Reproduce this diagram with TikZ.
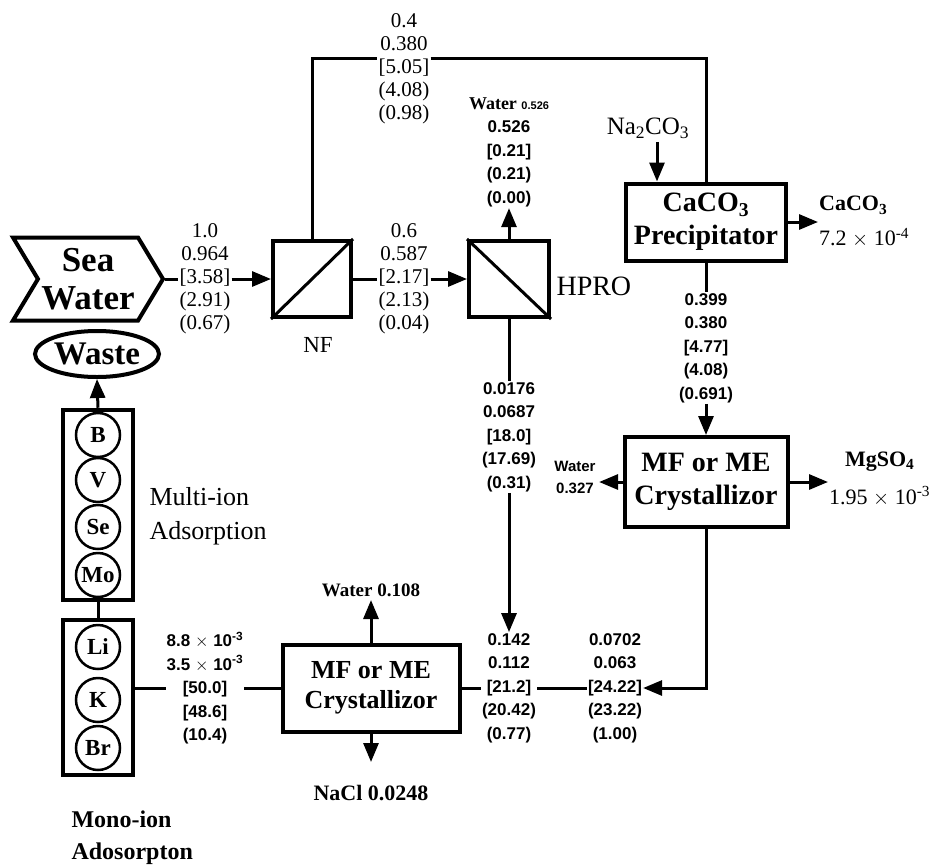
\documentclass[tikz,border=0pt]{standalone}
\usepackage{fontspec}
\setmainfont{Liberation Serif}
\setsansfont{Liberation Sans}
\usetikzlibrary{positioning,arrows.meta,fit,shapes.geometric,shapes.symbols}

\begin{document}
\begin{tikzpicture}[
  x=1pt, y=-1pt,
  >={Triangle[length=19pt,width=15pt]},
  stream/.style={line width=3pt},
  unit/.style={
    draw, line width=4pt, align=center, inner sep=0pt,
    font=\bfseries\fontsize{28}{33}\selectfont
  },
  memb/.style={draw, line width=4pt, minimum width=78pt, minimum height=76pt},
  ion/.style={
    circle, draw, line width=2.5pt, minimum size=44pt, inner sep=0pt,
    font=\bfseries\fontsize{23}{23}\selectfont
  },
  serlab/.style={align=center, inner sep=1pt, font=\fontsize{21}{23}\selectfont},
  sanlab/.style={align=center, inner sep=1pt, font=\sffamily\bfseries\fontsize{17}{23.5}\selectfont}
]
\useasboundingbox (0,0) rectangle (945,865);

% feed and membranes
\node[signal, signal to=east, signal from=west, signal pointer angle=118,
  draw, line width=4pt, minimum width=150pt, minimum height=83pt,
  align=center, font=\bfseries\fontsize{35}{38}\selectfont] (sea) at (88,279) {Sea\\Water};

\node[memb] (NF) at (312,279) {};
\draw[stream] (NF.south west) -- (NF.north east);
\node[font=\fontsize{23}{23}\selectfont] (nfname) at (318,345) {NF};

\node[memb, minimum width=80pt] (HPRO) at (509,279) {};
\draw[stream] (HPRO.north west) -- (HPRO.south east);
\node[anchor=west, font=\fontsize{28}{28}\selectfont] (roname) at (553,286) {HPRO};

% stream data
\node[serlab] (lsw) at (205,279) {1.0\\0.964\\{[3.58]}\\(2.91)\\(0.67)};
\node[serlab] (lnf) at (404,279) {0.6\\0.587\\{[2.17]}\\(2.13)\\(0.04)};
\node[serlab] (lbp) at (404,69) {0.4\\0.380\\{[5.05]}\\(4.08)\\(0.98)};
\node[sanlab] (lwat) at (509,164) {0.526\\{[0.21]}\\(0.21)\\(0.00)};
\node[font=\bfseries\fontsize{18}{18}\selectfont] (watro) at (509,104)
  {Water {\sffamily\fontsize{11}{11}\selectfont 0.526}};
\node[sanlab] (lperm) at (509,437) {0.0176\\0.0687\\{[18.0]}\\(17.69)\\(0.31)};
\node[sanlab] (lmix) at (509,688) {0.142\\0.112\\{[21.2]}\\(20.42)\\(0.77)};
\node[sanlab] (lmg) at (615,688) {0.0702\\0.063\\{[24.22]}\\(23.22)\\(1.00)};
\node[sanlab] (lca) at (706,348) {0.399\\0.380\\{[4.77]}\\(4.08)\\(0.691)};
\node[sanlab] (lli) at (205,688)
  {8.8 $\times$ 10\textsuperscript{-3}\\3.5 $\times$ 10\textsuperscript{-3}\\{[50.0]}\\{[48.6]}\\(10.4)};

% precipitator and crystallizers
\node[unit, minimum width=160pt, minimum height=77pt] (caco) at (706,222)
  {CaCO\textsubscript{3}\\Precipitator};
\node[font=\fontsize{25}{25}\selectfont] (soda) at (648,128) {Na\textsubscript{2}CO\textsubscript{3}};
\node[align=left, anchor=west, inner sep=1pt, font=\fontsize{22}{35}\selectfont] (caprod) at (818,222)
  {\textbf{CaCO\textsubscript{3}}\\7.2 $\times$ 10\textsuperscript{-4}};

\node[unit, minimum width=163pt, minimum height=90pt] (mf1) at (706,482) {MF or ME\\Crystallizor};
\node[align=center, font=\sffamily\bfseries\fontsize{15}{22}\selectfont] (watmf) at (575,477) {Water\\0.327};
\node[align=center, anchor=west, inner sep=1pt, font=\fontsize{22}{38}\selectfont] (mgprod) at (828,479)
  {\textbf{MgSO\textsubscript{4}}\\1.95 $\times$ 10\textsuperscript{-3}};

\node[unit, minimum width=177pt, minimum height=87pt, font=\bfseries\fontsize{26}{30}\selectfont]
  (mf2) at (371,688) {MF or ME\\Crystallizor};
\node[font=\bfseries\fontsize{19}{19}\selectfont] (watmf2) at (371,590) {Water 0.108};
\node[font=\bfseries\fontsize{22}{22}\selectfont] (salt) at (371,793) {NaCl 0.0248};
\coordinate (saltin) at (371,762);

% adsorption columns
\foreach \el/\yy in {B/435, V/480, Se/527, Mo/575, Li/647, K/700, Br/748}
  \node[ion] (\el) at (98,\yy) {\el};
\node[draw, line width=4pt, inner xsep=12pt, inner ysep=2pt, fit=(B)(Mo)] (multi) {};
\node[draw, line width=4pt, inner xsep=12pt, inner ysep=4pt, fit=(Li)(Br)] (mono) {};
\node[ellipse, draw, line width=4pt, minimum width=124pt, minimum height=46pt, inner sep=0pt,
  font=\bfseries\fontsize{33}{33}\selectfont] (waste) at (97,354) {Waste};
\node[anchor=west, align=left, font=\fontsize{26}{34}\selectfont] (multiname) at (146,516)
  {Multi-ion\\Adsorption};
\node[anchor=west, align=left, font=\bfseries\fontsize{24}{32}\selectfont] (mononame) at (68,838)
  {Mono-ion\\Adosorpton};

% connections
\draw[stream] (sea.east) -- (lsw.west);
\draw[stream,->] (lsw.east) -- (NF.west);
\draw[stream] (NF.east) -- (lnf.west);
\draw[stream,->] (lnf.east) -- (HPRO.west);
\draw[stream] (NF.north) |- ([yshift=11pt]lbp.west);
\draw[stream] ([yshift=11pt]lbp.east) -| (caco.north);
\draw[stream,->] (HPRO.north) -- (lwat.south);
\draw[stream] (HPRO.south) -- (lperm.north);
\draw[stream,->] (lperm.south) -- (lmix.north);
\draw[stream,->] ([xshift=9pt]soda.south) -- ([xshift=9pt]soda.south |- caco.north);
\draw[stream,->] (caco.east) -- (caprod.west);
\draw[stream] (caco.south) -- (lca.north);
\draw[stream,->] (lca.south) -- (mf1.north);
\draw[stream,->] (mf1.west) -- (mf1.west -| watmf.east);
\draw[stream,->] (mf1.east) -- (mf1.east -| mgprod.west);
\draw[stream,->] (mf1.south) |- (lmg.east);
\draw[stream] (lmg.west) -- (lmix.east);
\draw[stream] (lmix.west) -- (mf2.east);
\draw[stream,->] (mf2.north) -- (watmf2.south);
\draw[stream,->] (mf2.south) -- (saltin);
\draw[stream] (mf2.west) -- (lli.east);
\draw[stream] (lli.west) -- (lli.west -| mono.east);
\draw[stream] (multi.south) -- (mono.north);
\draw[stream,->] (multi.north) -- (waste.south);
\end{tikzpicture}
\end{document}
